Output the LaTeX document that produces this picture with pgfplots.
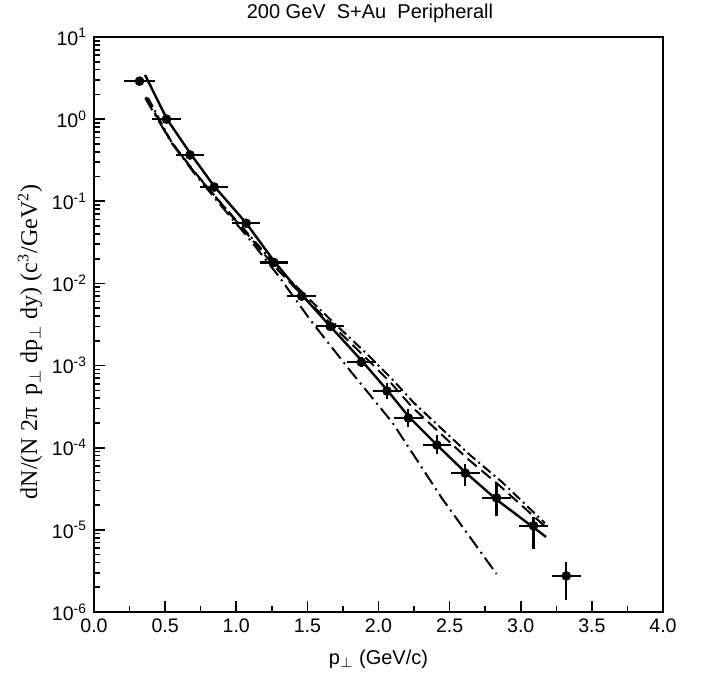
\documentclass[border=0pt]{standalone}
\usepackage{pgfplots}
\usepackage{pgfplotstable}
\pgfplotsset{compat=1.18}
\usepackage{fontspec}
\setmainfont{Liberation Sans}
\newfontfamily\seriffont{Liberation Serif}

\pgfplotstableread{
x y ex eyp eym
0.32 2.9 0.11 0.254 0.234
0.51 1.0 0.105 0.088 0.081
0.675 0.366 0.1 0.032 0.030
0.845 0.149 0.1 0.013 0.012
1.07 0.054 0.1 0.0047 0.0044
1.265 0.018 0.1 0.0016 0.0015
1.46 0.0070 0.1 0.0006 0.00056
1.66 0.0030 0.1 0.00045 0.00039
1.88 0.0011 0.1 0.000165 0.000144
2.06 4.9e-4 0.1 1.23e-4 9.8e-5
2.21 2.3e-4 0.1 6.6e-5 5.1e-5
2.41 1.08e-4 0.1 3.5e-5 2.4e-5
2.61 4.9e-5 0.1 1.4e-5 1.5e-5
2.83 2.45e-5 0.1 1.28e-5 9.7e-6
3.09 1.12e-5 0.1 3.2e-6 5.3e-6
3.32 2.75e-6 0.1 1.32e-6 1.35e-6
}\datatable

\pgfplotstableread{
x y
0.359 3.45
0.513 1.0
0.675 0.387
0.844 0.153
1.069 0.0545
1.265 0.01875
1.462 0.00723
1.659 0.00303
1.884 0.001138
2.060 5.05e-4
2.214 2.37e-4
2.411 1.08e-4
2.608 5.06e-5
2.833 2.31e-5
3.178 8.2e-6
}\solidtable

\pgfplotstableread{
x y
0.366 1.86
0.534 0.557
0.696 0.240
0.872 0.1038
1.083 0.0389
1.279 0.01542
1.476 0.00684
1.673 0.00312
1.898 0.001306
2.081 6.31e-4
2.236 3.13e-4
2.432 1.51e-4
2.629 7.28e-5
2.854 3.42e-5
3.192 1.02e-5
}\dashedtable

\pgfplotstableread{
x y
0.380 1.81
0.548 0.513
0.710 0.221
0.886 0.098
1.097 0.0378
1.293 0.01542
1.490 0.00703
1.687 0.0033
1.912 0.001422
2.095 6.85e-4
2.250 3.5e-4
2.446 1.69e-4
2.643 8.15e-5
2.868 3.82e-5
3.170 1.21e-5
}\dashdottable

\pgfplotstableread{
x y
0.36 1.8
0.55 0.50
0.70 0.225
0.88 0.094
1.09 0.035
1.29 0.0128
1.53 0.00342
1.80 0.00087
2.10 2.0e-4
2.444 2.45e-5
2.83 2.9e-6
}\steeptable

\begin{document}
\begin{tikzpicture}
\path[use as bounding box] (-47pt,-35.5pt) rectangle (305pt,306pt);
\begin{axis}[
  at={(0pt,0pt)}, anchor=south west,
  scale only axis,
  width=284.5pt, height=287.5pt,
  xmin=0, xmax=4,
  ymode=log, ymin=1e-6, ymax=10,
  xtick={0,0.5,1,1.5,2,2.5,3,3.5,4},
  xticklabels={0.0,0.5,1.0,1.5,2.0,2.5,3.0,3.5,4.0},
  minor x tick num=1,
  ytick={1e-6,1e-5,1e-4,1e-3,1e-2,1e-1,1,10},
  yticklabels={10\textsuperscript{-6},10\textsuperscript{-5},10\textsuperscript{-4},10\textsuperscript{-3},10\textsuperscript{-2},10\textsuperscript{-1},10\textsuperscript{0},10\textsuperscript{1}},
  tick align=inside,
  xtick pos=bottom, ytick pos=left,
  major tick length=5.5pt, minor tick length=3pt,
  every tick/.style={black, line width=0.8pt},
  axis line style={line width=1pt},
  tick label style={font=\fontsize{9.8}{11}\selectfont},
  every axis title shift=0pt,
  title={200 GeV\ \ S+Au\ \ Peripherall},
  title style={at={(axis description cs:0.485,1.042)}, anchor=center, font=\fontsize{10}{12}\selectfont},
  xlabel={p$_\perp$ (GeV/c)},
  xlabel style={at={(axis description cs:0.5,-0.083)}, anchor=center, font=\fontsize{10}{12}\selectfont},
  ylabel={\seriffont dN/(N 2π\ \ p$_\perp$ dp$_\perp$ dy) (c\textsuperscript{3}/GeV\textsuperscript{2})},
  ylabel style={at={(axis description cs:-0.1125,0.47)}, anchor=center, font=\fontsize{12}{14}\selectfont},
  clip=false,
]
\addplot[black, line width=1.2pt] table[x=x,y=y] {\solidtable};
\addplot[black, line width=1pt, dash pattern=on 6pt off 3pt] table[x=x,y=y] {\dashedtable};
\addplot[black, line width=1pt, dash pattern=on 5pt off 2pt on 1pt off 2pt] table[x=x,y=y] {\dashdottable};
\addplot[black, line width=1pt, dash pattern=on 7pt off 2.5pt on 1pt off 2.5pt] table[x=x,y=y] {\steeptable};
\addplot[black, only marks, mark=*, mark size=2.2pt,
  error bars/.cd, x dir=both, x explicit, y dir=both, y explicit,
  error bar style={line width=1.1pt}, error mark=none]
  table[x=x, y=y, x error=ex, y error plus=eyp, y error minus=eym] {\datatable};
\end{axis}
\end{tikzpicture}
\end{document}
